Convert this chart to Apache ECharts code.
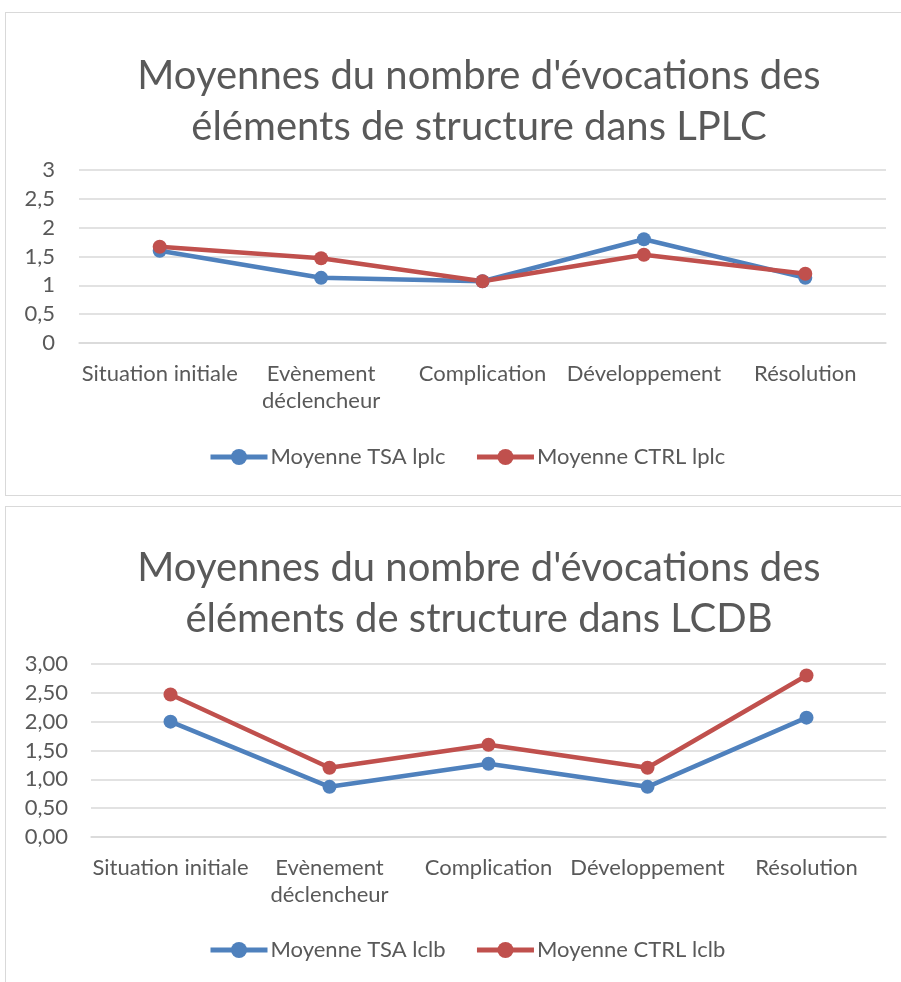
<!DOCTYPE html>
<html>
<head>
<meta charset="utf-8">
<script src="https://cdn.jsdelivr.net/npm/echarts@6/dist/echarts.min.js"></script>
<style>
  body { margin: 0; background: #fff; }
  .box { position: absolute; border: 1.5px solid #d9d9d9; background: #fff; }
  #main { position: absolute; left: 0; top: 0; width: 901px; height: 982px; }
</style>
</head>
<body>
<div class="box" style="left:5px; top:12px; width:910px; height:482px;"></div>
<div class="box" style="left:5px; top:506px; width:910px; height:500px;"></div>
<div id="main"></div>
<script>
// categories (axe x)
let categories = ['Situation initiale', 'Evènement déclencheur', 'Complication', 'Développement', 'Résolution']

// LPLC
let tsaLplc = [1.6, 1.13, 1.07, 1.8, 1.13]
let ctrlLplc = [1.67, 1.47, 1.07, 1.53, 1.2]

// LCDB
let tsaLclb = [2.0, 0.87, 1.27, 0.87, 2.07]
let ctrlLclb = [2.47, 1.2, 1.6, 1.2, 2.8]

let txt = '#595959'
let blue = '#4F81BD'
let red = '#C0504D'
let font = 'Lato'

function xAxisOf(gridIndex) {
  return {
    type: 'category',
    gridIndex: gridIndex,
    data: categories,
    boundaryGap: true,
    axisLine: { lineStyle: { color: '#d9d9d9', width: 1.5 } },
    axisTick: { show: false },
    axisLabel: {
      color: txt, fontSize: 22, fontFamily: font, margin: 17,
      lineHeight: 27, interval: 0,
      // libellé trop long -> sur deux lignes
      formatter: function (v) { return v.length > 18 ? v.replace(' ', '\n') : v }
    }
  }
}

function yAxisOf(gridIndex, decimals, margin) {
  return {
    type: 'value',
    gridIndex: gridIndex,
    min: 0, max: 3, interval: 0.5,
    axisLine: { show: false },
    axisTick: { show: false },
    splitLine: { lineStyle: { color: '#d9d9d9', width: 1.5 } },
    axisLabel: {
      color: txt, fontSize: 22, fontFamily: font, margin: margin,
      formatter: function (v) {
        return (decimals ? v.toFixed(decimals) : String(v)).replace('.', ',')
      }
    }
  }
}

function lineSeries(name, data, color, idx) {
  return {
    name: name,
    type: 'line',
    xAxisIndex: idx,
    yAxisIndex: idx,
    data: data,
    symbol: 'circle',
    symbolSize: 14,
    lineStyle: { color: color, width: 4.5 },
    itemStyle: { color: color }
  }
}

let titleStyle = { color: txt, fontSize: 40, fontWeight: 'normal', fontFamily: font, lineHeight: 51 }
let legendBase = {
  orient: 'horizontal',
  itemWidth: 57, itemHeight: 20, itemGap: 29,
  lineStyle: { width: 5 },
  textStyle: { color: txt, fontSize: 22, fontFamily: font, padding: [0, 0, 0, -2] }
}

let chart = echarts.init(document.getElementById('main'))
chart.setOption({
  animation: false,
  title: [
    { text: "Moyennes du nombre d'évocations des\néléments de structure dans LPLC", left: 474, top: 46, textAlign: 'center', textStyle: titleStyle },
    { text: "Moyennes du nombre d'évocations des\néléments de structure dans LCDB", left: 474, top: 538, textAlign: 'center', textStyle: titleStyle }
  ],
  legend: [
    Object.assign({}, legendBase, { left: 203, top: 441, data: ['Moyenne TSA lplc', 'Moyenne CTRL lplc'] }),
    Object.assign({}, legendBase, { left: 203, top: 934, data: ['Moyenne TSA lclb', 'Moyenne CTRL lclb'] })
  ],
  grid: [
    { left: 79, top: 170, width: 807, height: 173 },
    { left: 91, top: 664, width: 795, height: 173 }
  ],
  xAxis: [xAxisOf(0), xAxisOf(1)],
  yAxis: [yAxisOf(0, 0, 24), yAxisOf(1, 2, 23)],
  series: [
    lineSeries('Moyenne TSA lplc', tsaLplc, blue, 0),
    lineSeries('Moyenne CTRL lplc', ctrlLplc, red, 0),
    lineSeries('Moyenne TSA lclb', tsaLclb, blue, 1),
    lineSeries('Moyenne CTRL lclb', ctrlLclb, red, 1)
  ]
})
</script>
</body>
</html>
